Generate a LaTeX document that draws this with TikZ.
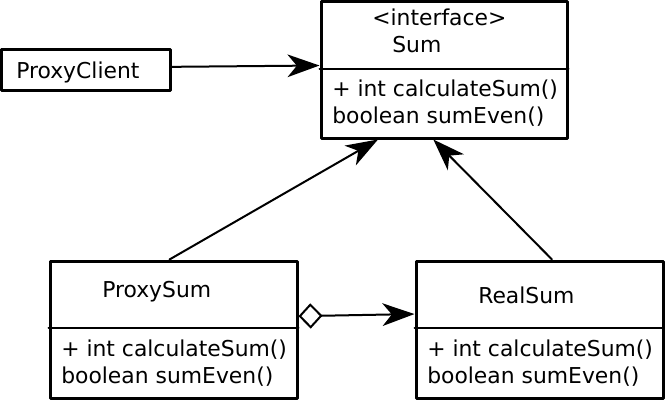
\documentclass[tikz,border=0pt]{standalone}
\usepackage{fontspec}
\setmainfont{DejaVu Sans}
\usetikzlibrary{arrows.meta,positioning,fit}

\begin{document}
\begin{tikzpicture}[x=0.75pt,y=-0.75pt,line cap=round,line join=round,
    box/.style={draw,line width=2.25pt,inner sep=0pt},
    txt/.style={anchor=base west,inner sep=0pt,font=\fontsize{16.4}{20}\selectfont},
    sep/.style={line width=1.5pt},
    link/.style={line width=1.5pt,-{Stealth[length=24pt,width=17pt,inset=7pt]}},
    agg/.style={line width=1.5pt,{Diamond[open,length=18pt,width=19pt]}-{Stealth[length=24pt,width=17pt,inset=7pt]}}]
  % white background
  \fill[white] (0,0) rectangle (665,401);
  \useasboundingbox (0,0) rectangle (665,401);

  % boxes
  \node[box,fit={(1,49) (170,90)}] (pc) {};
  \node[box,fit={(321,1) (567,138)}] (sum) {};
  \node[box,fit={(50,261) (297,398)}] (ps) {};
  \node[box,fit={(416,261) (663,398)}] (rs) {};

  % compartments
  \draw[sep] (sum.west |- 0,69) -- (sum.east |- 0,69);
  \draw[sep] (ps.west |- 0,328) -- (ps.east |- 0,328);
  \draw[sep] (rs.west |- 0,328) -- (rs.east |- 0,328);

  % labels
  \node[txt] (pcname) at (16,78) {ProxyClient};
  \node[txt] (sumstereo) at (372,25) {<interface>};
  \node[txt] (sumname) at (392,52) {Sum};
  \node[txt] (summ1) at (332,96) {+ int calculateSum()};
  \node[txt] (summ2) at (332,123) {boolean sumEven()};
  \node[txt] (psname) at (102,297) {ProxySum};
  \node[txt] (psm1) at (61,356) {+ int calculateSum()};
  \node[txt] (psm2) at (61,383) {boolean sumEven()};
  \node[txt] (rsname) at (478,303) {RealSum};
  \node[txt] (rsm1) at (427,356) {+ int calculateSum()};
  \node[txt] (rsm2) at (427,383) {boolean sumEven()};

  % connectors
  \draw[link] ([yshift=2pt]pc.east) -- ([yshift=3pt]sum.west);
  \draw[link] ([xshift=-3pt]ps.north) -- ([xshift=-49.5pt]sum.south);
  \draw[link] ([xshift=9.4pt]rs.north) -- ([xshift=-8pt]sum.south);
  \draw[agg] ([yshift=10pt]ps.east) -- ([yshift=11.6pt]rs.west);
\end{tikzpicture}
\end{document}
